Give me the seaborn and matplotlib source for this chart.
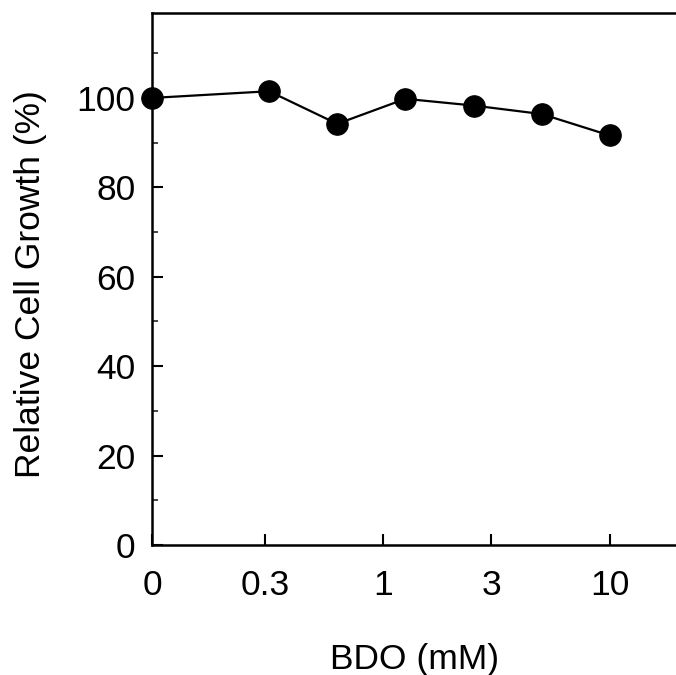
import matplotlib
matplotlib.use('Agg')
import matplotlib.pyplot as plt
from matplotlib.ticker import FixedLocator, NullLocator, MultipleLocator
import seaborn as sns
import pandas as pd

# BDO concentrations (mM); 0 is drawn just left of 0.1 on the log axis
dose_mM = [0, 0.3125, 0.625, 1.25, 2.5, 5, 10]
growth_pct = [100.0, 101.5, 94.2, 99.8, 98.3, 96.4, 91.6]
x_tick_values = [0, 0.3, 1, 3, 10]
x_tick_labels = ['0', '0.3', '1', '3', '10']
zero_pos = 0.095


def to_axis(v):
    return zero_pos if v == 0 else v


df = pd.DataFrame({'dose': [to_axis(d) for d in dose_mM], 'growth': growth_pct})

sns.set_style('ticks')
plt.rcParams['font.family'] = ['Liberation Sans', 'DejaVu Sans']
plt.rcParams['text.color'] = 'black'
plt.rcParams['axes.labelcolor'] = 'black'

fig = plt.figure(figsize=(6.76, 6.75), dpi=100)
ax = fig.add_axes([152 / 676, 130 / 675, 526 / 676, 532 / 675])

sns.lineplot(data=df, x='dose', y='growth', ax=ax, color='black', linewidth=1.6,
             marker='o', markersize=15.5, markeredgecolor='black', markerfacecolor='black',
             clip_on=False, zorder=5)

ax.set_xscale('log')
ax.set_xlim(zero_pos, 20)
ax.set_ylim(0, 119)

ax.xaxis.set_major_locator(FixedLocator([to_axis(v) for v in x_tick_values]))
ax.set_xticklabels(x_tick_labels)
ax.xaxis.set_minor_locator(NullLocator())
ax.yaxis.set_major_locator(MultipleLocator(20))
ax.yaxis.set_minor_locator(MultipleLocator(10))
ax.set_yticks([0, 20, 40, 60, 80, 100])

ax.tick_params(axis='both', which='major', direction='in', length=8, width=1.5,
               labelsize=25.5, colors='black')
ax.tick_params(axis='x', which='major', pad=17)
ax.tick_params(axis='y', which='major', pad=12)
ax.tick_params(axis='y', which='minor', direction='in', length=4, width=1.2)
ax.tick_params(axis='x', which='minor', length=0)

for side in ['left', 'bottom', 'top']:
    ax.spines[side].set_linewidth(1.8)
    ax.spines[side].set_color('black')
ax.spines['right'].set_visible(False)

ax.set_xlabel('BDO (mM)', fontsize=25.5, labelpad=30)
ax.set_ylabel('Relative Cell Growth (%)', fontsize=25.5)
ax.yaxis.set_label_coords(-0.200, 0.49)

plt.savefig('out.png', dpi=100)
plt.close()
